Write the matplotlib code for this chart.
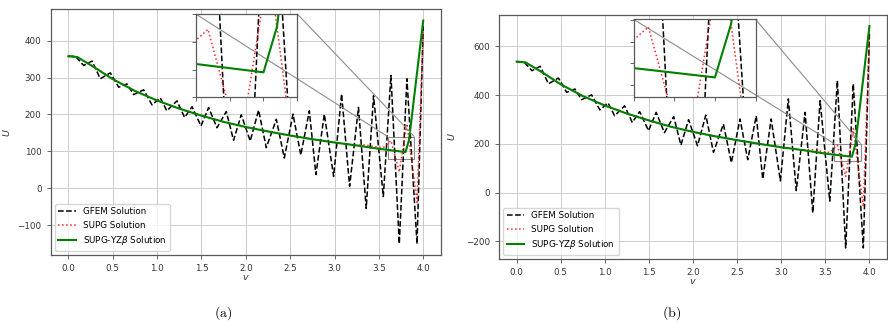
import matplotlib
matplotlib.use('Agg')
import matplotlib.pyplot as plt
from mpl_toolkits.axes_grid1.inset_locator import mark_inset

# ---------------- data ----------------
# node positions of the GFEM / SUPG solutions
gfem_x = [0.0, 0.08, 0.173, 0.267, 0.36, 0.473, 0.567, 0.661, 0.736, 0.849, 0.943,
          1.036, 1.11, 1.224, 1.31, 1.394, 1.495, 1.581, 1.675, 1.78, 1.862, 1.949,
          2.05, 2.144, 2.231, 2.344, 2.434, 2.532, 2.62, 2.716, 2.79, 2.885, 2.99,
          3.08, 3.17, 3.27, 3.357, 3.44, 3.55, 3.636, 3.73, 3.816, 3.93, 4.0]
gfem_a = [358, 358, 333, 345, 297, 313, 274, 283, 254, 267, 226, 245, 210, 237, 192,
          221, 169, 219, 164, 208, 130, 199, 128, 212, 110, 187, 82, 201, 90, 210, 37,
          201, 32, 256, 5, 219, -55, 251, -23, 306, -151, 297, -151, 440]
gfem_b = [537, 537, 500, 518, 446, 470, 411, 425, 381, 401, 339, 368, 315, 356, 288,
          332, 254, 329, 246, 312, 195, 299, 192, 318, 165, 281, 123, 302, 135, 315, 56,
          302, 48, 384, 8, 329, -83, 377, -35, 459, -227, 446, -227, 660]

supg_x = [0.0, 0.1, 0.3, 0.5, 0.75, 1.0, 1.25, 1.5, 1.75, 2.0, 2.25, 2.5, 2.75, 3.0,
          3.25, 3.3, 3.357, 3.44, 3.55, 3.636, 3.73, 3.816, 3.93, 4.0]
supg_a = [358, 356, 327, 296, 264, 238, 216, 197, 180, 166, 154, 143, 133, 124,
          116, 118, 117, 113, 110, 129, 44, 175, -38, 430]
supg_b = [537, 534, 491, 444, 396, 357, 324, 296, 270, 249, 231, 215, 200, 186,
          174, 177, 176, 170, 165, 194, 66, 263, -57, 645]

yz_x = [0.0, 0.1, 0.3, 0.5, 0.75, 1.0, 1.25, 1.5, 1.75, 2.0, 2.25, 2.5, 2.75, 3.0,
        3.25, 3.5, 3.8, 3.84, 4.0]
yz_a = [358, 356, 327, 296, 264, 238, 216, 197, 180, 166, 154, 143, 133, 124,
        116, 107, 98, 131, 455]
yz_b = [537, 534, 491, 444, 396, 357, 324, 296, 270, 249, 231, 215, 200, 186,
        174, 160, 147, 197, 683]

labels = ["GFEM Solution", "SUPG Solution", r"SUPG-YZ$\beta$ Solution"]
captions = ["(a)", "(b)"]

# ---------------- figure ----------------
fig = plt.figure(figsize=(8.88, 3.23), dpi=100)
FS = 6.3

axes_pos = [[0.057, 0.2105, 0.4396, 0.7605], [0.562, 0.198, 0.437, 0.7556]]
inset_pos = [[0.372, 0.642, 0.26, 0.339], [0.347, 0.665, 0.314, 0.317]]
inset_ylim = [(80, 140), (129, 201)]
inset_yticks = [[80, 100, 120, 140], [140, 160, 180, 200]]
ylabel_x = [-0.099, -0.108]
xlabel_y = [-0.092, -0.09]
cap_x = [0.2508, 0.7564]

panels = [(gfem_a, supg_a, yz_a), (gfem_b, supg_b, yz_b)]

for i, (g, s, z) in enumerate(panels):
    ax = fig.add_axes(axes_pos[i])
    ax.plot(gfem_x, g, color='black', ls='--', lw=1.1, label=labels[0])
    ax.plot(supg_x, s, color='red', ls=':', lw=1.1, alpha=0.85, label=labels[1])
    ax.plot(yz_x, z, color='green', ls='-', lw=1.5, label=labels[2])
    ax.grid(True, color='#cccccc', lw=0.7)
    ax.set_axisbelow(True)
    ax.set_xticks([0.0, 0.5, 1.0, 1.5, 2.0, 2.5, 3.0, 3.5, 4.0])
    ax.tick_params(labelsize=FS, length=3, width=0.6, colors='0.3', labelcolor='0.2')
    for sp in ax.spines.values():
        sp.set_color('0.35')
        sp.set_linewidth(0.9)
    ax.set_xlabel(r'$v$', fontsize=FS + 0.5, color='0.2', va='center')
    ax.set_ylabel(r'$U$', fontsize=FS + 0.5, color='0.2')
    ax.yaxis.set_label_coords(ylabel_x[i], 0.5)
    ax.xaxis.set_label_coords(0.5, xlabel_y[i])
    ax.legend(loc='lower left', fontsize=FS, borderaxespad=0.5)

    axins = ax.inset_axes(inset_pos[i])
    axins.plot(gfem_x, g, color='black', ls='--', lw=1.1)
    axins.plot(supg_x, s, color='red', ls=':', lw=1.1, alpha=0.85)
    axins.plot(yz_x, z, color='green', ls='-', lw=1.5)
    axins.set_xlim(3.6, 3.9)
    axins.set_ylim(*inset_ylim[i])
    axins.set_xticks([3.6, 3.7, 3.8, 3.9])
    axins.set_yticks(inset_yticks[i])
    axins.set_xticklabels([])
    axins.set_yticklabels([])
    axins.tick_params(length=3, width=0.6, colors='0.3')
    for sp in axins.spines.values():
        sp.set_color('0.35')
        sp.set_linewidth(0.9)
    mark_inset(ax, axins, loc1=2, loc2=1, fc='none', ec='0.55', lw=0.8)

    fig.text(cap_x[i], 0.031, r'$\mathrm{' + captions[i] + '}$', ha='center', va='center',
             fontsize=10, math_fontfamily='cm')

fig.savefig('out.png', dpi=100)
